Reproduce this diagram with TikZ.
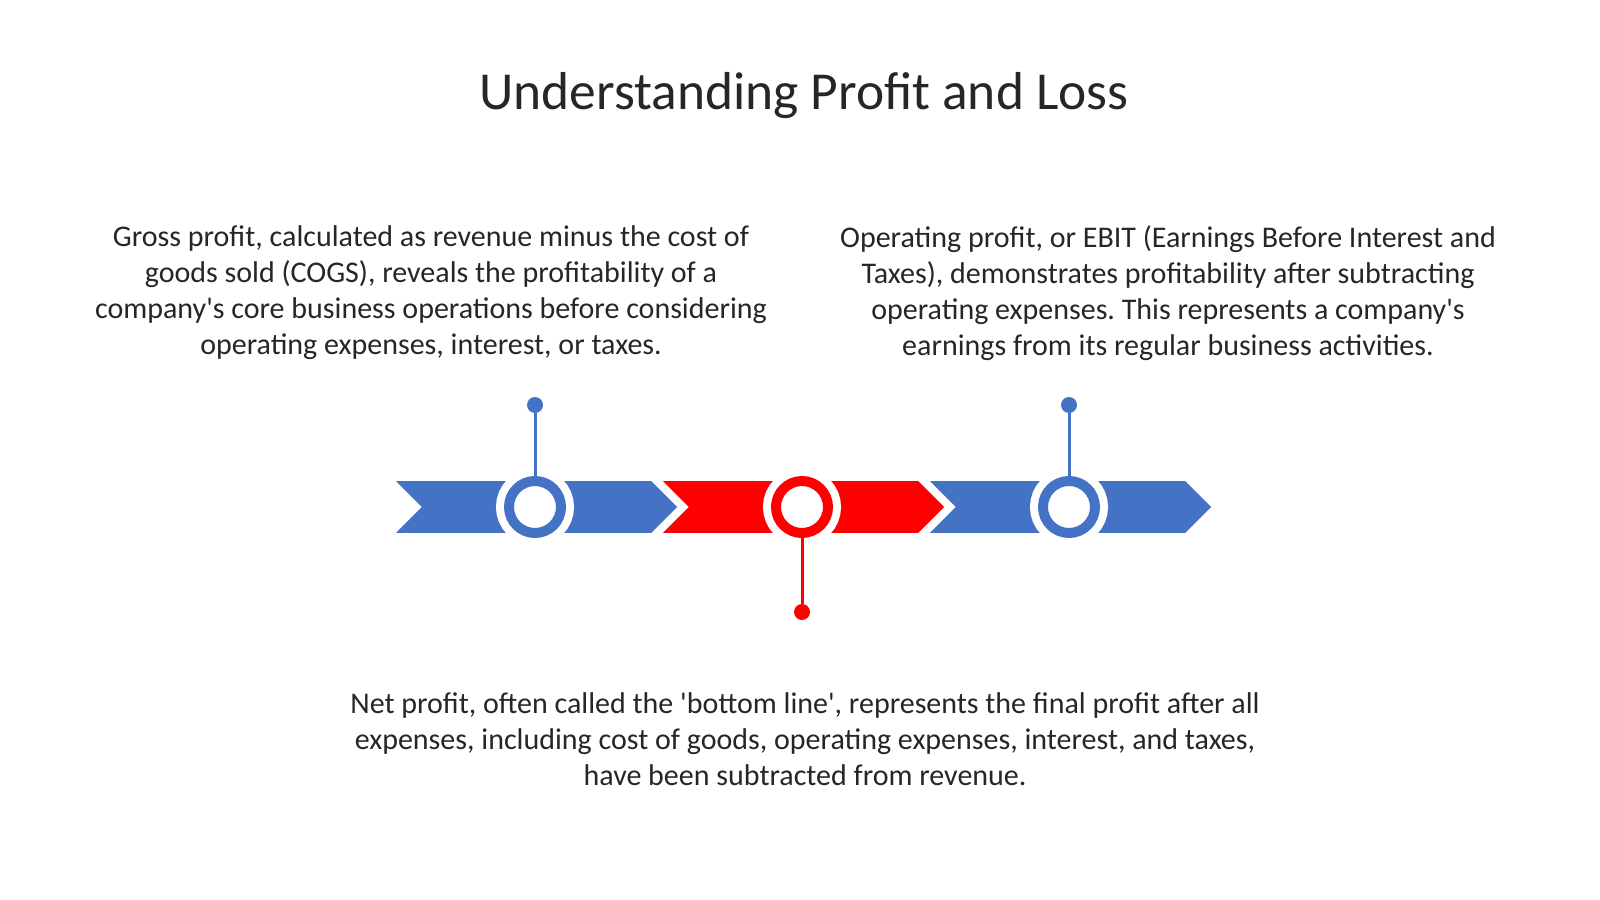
\documentclass[tikz,border=0pt]{standalone}
\usepackage{fontspec}
\setmainfont{Carlito}[Ligatures=TeXOff]
\usepackage{xcolor}
\usepackage{tikz}

\definecolor{plblue}{HTML}{4472C4}
\definecolor{plred}{HTML}{FF0000}
\definecolor{pltext}{HTML}{262626}

\tikzset{
  bodytext/.style={align=center, text=pltext, font=\fontsize{15}{18}\selectfont},
  chevron/.style={draw=white, line width=1.8pt, line join=miter},
  ring/.style={circle, inner sep=0pt, minimum size=26pt, fill=white, draw=#1, line width=5pt,
    preaction={draw=white, line width=13pt}},
  pin/.style={circle, inner sep=0pt, minimum size=8pt, fill=#1},
  stem/.style={draw=#1, line width=1.5pt}
}

\begin{document}
\frenchspacing
\begin{tikzpicture}[x=0.5pt, y=-0.5pt]
    \useasboundingbox (0,0) rectangle (1600,899);

    % Title
    \node[text=pltext, font=\fontsize{26.7}{32}\selectfont] (title) at (804,96) {Understanding Profit and Loss};

    % Texts above and below the band
    \node[bodytext] (grossText) at (431,293) {Gross profit, calculated as revenue minus the cost of\\
      goods sold (COGS), reveals the profitability of a\\
      company's core business operations before considering\\
      operating expenses, interest, or taxes.};
    \node[bodytext] (operText) at (1168,293) {Operating profit, or EBIT (Earnings Before Interest and\\
      Taxes), demonstrates profitability after subtracting\\
      operating expenses. This represents a company's\\
      earnings from its regular business activities.};
    \node[bodytext] (netText) at (805,739) {Net profit, often called the 'bottom line', represents the final profit after all\\
      expenses, including cost of goods, operating expenses, interest, and taxes,\\
      have been subtracted from revenue.};

    % Draw the chevrons
    \fill[plblue, chevron] (925,479) -- (1186,479) -- (1214,507) -- (1186,535) -- (925,535) -- (953,507) -- cycle;
    \fill[plred, chevron] (658,479) -- (919,479) -- (947,507) -- (919,535) -- (658,535) -- (686,507) -- cycle;
    \fill[plblue, chevron] (391,479) -- (652,479) -- (680,507) -- (652,535) -- (391,535) -- (419,507) -- cycle;

    % Rings on the band
    \node[ring=plblue] (grossRing) at (535,507) {};
    \node[ring=plred] (netRing) at (802,507) {};
    \node[ring=plblue] (operRing) at (1069,507) {};

    % Pins and stems
    \node[pin=plblue] (grossPin) at (535,405) {};
    \node[pin=plred] (netPin) at (802,612) {};
    \node[pin=plblue] (operPin) at (1069,405) {};
    \draw[stem=plblue] (grossPin) -- (grossRing);
    \draw[stem=plred] (netPin) -- (netRing);
    \draw[stem=plblue] (operPin) -- (operRing);
\end{tikzpicture}
\end{document}
